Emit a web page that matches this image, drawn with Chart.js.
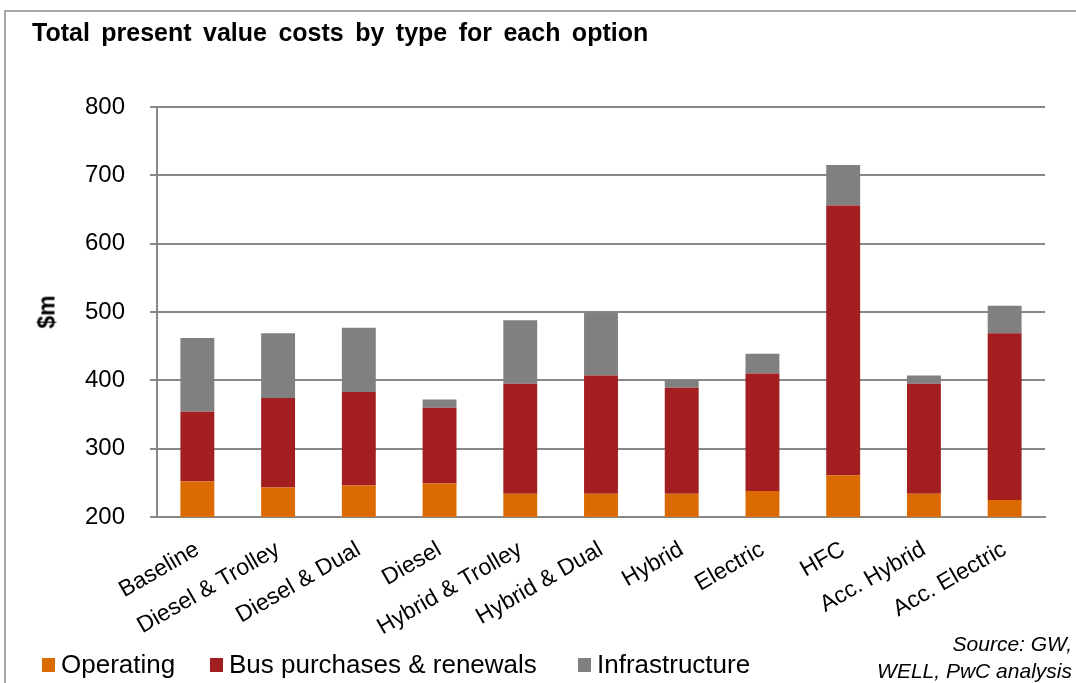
<!DOCTYPE html>
<html>
<head>
<meta charset="utf-8">
<script src="https://cdn.jsdelivr.net/npm/chart.js@4/dist/chart.umd.min.js"></script>
<style>
  body { margin: 0; background: #fff; font-family: "Liberation Sans", Arial, sans-serif; }
  #wrap { position: relative; width: 1076px; height: 683px; overflow: hidden; }
  #frame { position: absolute; left: 4px; top: 10px; width: 1200px; height: 800px;
           border-left: 2px solid #a6a6a6; border-top: 2px solid #a6a6a6; }
  #chart { position: absolute; left: 0; top: 0; }
  #title { position: absolute; left: 32px; top: 18px; font-weight: bold; font-size: 25px; color: #000;
           white-space: nowrap; word-spacing: 4.5px; }
  #ylabel { position: absolute; left: 47px; top: 312px; transform: translate(-50%, -50%) rotate(-90deg);
            font-weight: bold; font-size: 23px; white-space: nowrap; }
  .item { position: absolute; top: 649px; display: flex; align-items: center; font-size: 26px; white-space: nowrap; }
  .box { width: 13px; height: 14px; margin-right: 6px; }
  #source { position: absolute; right: 4px; top: 630px; text-align: right; font-style: italic;
            font-size: 21px; line-height: 27px; white-space: nowrap; }
</style>
</head>
<body>
<div id="wrap">
  <div id="frame"></div>
  <canvas id="chart" width="1076" height="683"></canvas>
  <div id="title">Total present value costs by type for each option</div>
  <div id="ylabel">$m</div>
  <div id="legend"></div>
  <div id="source">Source: GW,<br>WELL, PwC analysis</div>
</div>
<script>
// options and cost components ($m, present value)
const categories = ['Baseline', 'Diesel & Trolley', 'Diesel & Dual', 'Diesel', 'Hybrid & Trolley',
    'Hybrid & Dual', 'Hybrid', 'Electric', 'HFC', 'Acc. Hybrid', 'Acc. Electric'];
const operating = [252, 243, 246, 249, 234, 234, 234, 238, 261, 234, 225];
const busPurchases = [102, 131, 137, 111, 161, 173, 155, 172, 395, 161, 244];
const infrastructure = [108, 95, 94, 12, 93, 92, 12, 29, 59, 12, 40];
const yTicks = [200, 300, 400, 500, 600, 700, 800];

const seriesNames = ['Operating', 'Bus purchases & renewals', 'Infrastructure'];
const seriesColors = ['#db6a00', '#a21e20', '#808080'];
const seriesData = [operating, busPurchases, infrastructure];
const legendLeft = [42, 210, 578];

const FONT = '"Liberation Sans", Arial, sans-serif';
const GRID = '#888888';

const datasets = seriesData.map((data, i) => ({
    label: seriesNames[i],
    data: data,
    backgroundColor: seriesColors[i],
    barPercentage: 0.84,
    categoryPercentage: 0.5
}));

new Chart(document.getElementById('chart'), {
    type: 'bar',
    data: { labels: categories, datasets: datasets },
    options: {
        responsive: false,
        animation: false,
        layout: { padding: { left: 0, top: 107, right: 31, bottom: 0 } },
        plugins: { legend: { display: false }, tooltip: { enabled: false } },
        scales: {
            x: {
                stacked: true,
                afterFit: s => { s.height = 166; },
                grid: { display: false },
                border: { display: true, color: GRID, width: 2 },
                ticks: {
                    minRotation: 30, maxRotation: 30, padding: 11, autoSkip: false,
                    color: '#000', font: { family: FONT, size: 23 }
                }
            },
            y: {
                stacked: true,
                min: yTicks[0],
                max: yTicks[yTicks.length - 1],
                afterFit: s => { s.width = 157; },
                afterBuildTicks: s => { s.ticks = yTicks.map(v => ({ value: v })); },
                grid: { color: GRID, lineWidth: 2, tickLength: 7 },
                border: { display: true, color: GRID, width: 2 },
                ticks: { padding: 25, color: '#000', font: { family: FONT, size: 24 } }
            }
        }
    }
});

// legend
const legend = document.getElementById('legend');
seriesNames.forEach((name, i) => {
    const item = document.createElement('div');
    item.className = 'item';
    item.style.left = legendLeft[i] + 'px';
    item.innerHTML = `<span class="box" style="background:${seriesColors[i]}"></span><span>${name}</span>`;
    legend.appendChild(item);
});
</script>
</body>
</html>
